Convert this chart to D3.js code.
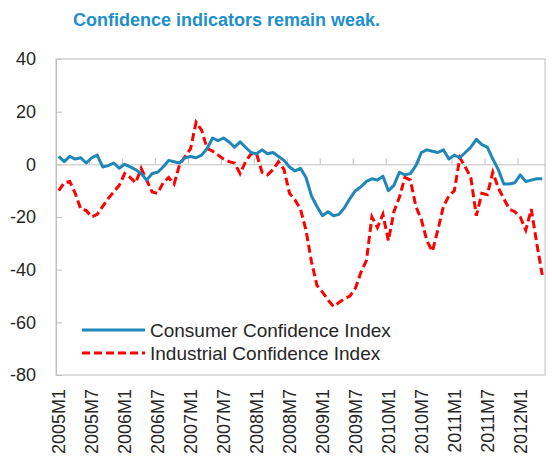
<!DOCTYPE html>
<html>
<head>
<meta charset="utf-8">
<script src="https://cdn.jsdelivr.net/npm/d3@7"></script>
<style>
  body { margin: 0; background: #fff; }
  text { font-family: "Liberation Sans", Arial, sans-serif; }
</style>
</head>
<body>
<main></main>
<script>
/*** Data ***/

// every 6th month gets a label
let tickLabels = ['2005M1', '2005M7', '2006M1', '2006M7', '2007M1', '2007M7', '2008M1', '2008M7',
    '2009M1', '2009M7', '2010M1', '2010M7', '2011M1', '2011M7', '2012M1']

let years = [2005, 2006, 2007, 2008, 2009, 2010, 2011, 2012]
let lastMonth = 5 // series end at 2012M5

let months = []
years.forEach(yr => {
    for (let m = 1; m <= 12; m++) {
        if (yr === 2012 && m > lastMonth) break
        months.push(yr + 'M' + m)
    }
})

let consumer = [
    3, 1, 3, 2, 2.5, 0.5, 2.5, 3.5, -1, -0.5, 0.5, -1.5,
    0, -1, -2, -3.5, -6, -3.5, -3, -1, 1.5, 1, 0.5, 2.5,
    3, 2.5, 3.5, 6, 10, 9, 10, 8.5, 6.5, 8.5, 6.5, 4.5,
    4, 5.5, 4, 4.5, 3, 1.5, -1, -2.5, -1.5, -5, -12, -16,
    -19.5, -18, -19.5, -19, -16.5, -13, -10, -8.5, -6.5, -5.5, -6, -4.5,
    -10, -8, -3, -4, -3.5, -0.5, 4.5, 5.5, 5, 4.5, 5.5, 2,
    3.5, 2.5, 4.5, 6.5, 9.5, 7.5, 6.5, 2, -2, -7.5, -7.5, -7,
    -4, -6.5, -6, -5.5, -5.5
]

let industrial = [
    -10, -7, -6.5, -11, -17, -17.5, -20, -19, -16, -13, -10.5, -8,
    -3.5, -5, -7, -1.5, -6, -10.5, -11, -7, -5, -7.5, 0, 3,
    6, 16, 13, 6, 5, 3.5, 2, 1, 0.5, -3.5, 1, 4,
    4, -3, -4, -2, 1, -2, -11, -13.5, -17, -25, -37, -46,
    -48.5, -51.5, -54, -52.5, -51, -50, -47, -41, -36.5, -20, -24, -19,
    -29, -18, -12.5, -5, -6, -16, -21, -29, -33, -25, -16, -12,
    -10, 2.5, -1, -5, -19.5, -11, -11.5, -3, -9, -13, -17, -18,
    -20, -25, -17, -30, -42
]

let yTicks = [40, 20, 0, -20, -40, -60, -80]

let seriesNames = ['Consumer Confidence Index', 'Industrial Confidence Index']

/*** Layout ***/

const svgWidth = 552
const svgHeight = 465

const plotLeft = 56
const plotRight = 545
const plotTop = 59
const plotBottom = 375

const blue = '#1f87b8'
const red = '#ff0000'
const gray = '#bfbfbf'
const textColor = '#262626'

let svg = d3.select('main')
    .append('svg')
    .attr('width', svgWidth)
    .attr('height', svgHeight)
    .style('display', 'block')

// title
svg.append('text')
    .attr('x', 73)
    .attr('y', 26)
    .attr('fill', '#2090cc')
    .style('font-size', '18px')
    .style('font-weight', 'bold')
    .text('Confidence indicators remain weak.')

/* Scales */

let x = d3.scaleBand()
    .domain(months)
    .range([plotLeft, plotRight])

let xIndex = d3.scaleLinear()
    .domain([0, months.length])
    .range([plotLeft, plotRight])

let y = d3.scaleLinear()
    .domain([-80, 40])
    .range([plotBottom, plotTop])

// plot frame
svg.append('rect')
    .attr('x', plotLeft)
    .attr('y', plotTop)
    .attr('width', plotRight - plotLeft)
    .attr('height', plotBottom - plotTop)
    .attr('fill', 'none')
    .attr('stroke', gray)
    .attr('stroke-width', 1)

/* Axes */

let leftAxis = d3.axisLeft(y)
    .tickValues(yTicks)
    .tickSizeInner(-6)
    .tickSizeOuter(0)
    .tickPadding(20)
    .tickFormat(d => String(d)) // plain hyphen, like the original

let yAxis = svg.append('g')
    .attr('transform', `translate(${plotLeft}, 0)`)
    .call(leftAxis)

yAxis.select('.domain').attr('stroke', gray)
yAxis.selectAll('line').attr('stroke', gray)
yAxis.selectAll('text')
    .attr('fill', textColor)
    .style('font-size', '18px')

// axis through zero with tick marks every 6 months
let zeroAxis = d3.axisTop(xIndex)
    .tickValues(d3.range(0, months.length, 6))
    .tickSizeInner(6)
    .tickSizeOuter(0)
    .tickFormat('')

let zAxis = svg.append('g')
    .attr('transform', `translate(0, ${y(0)})`)
    .call(zeroAxis)

zAxis.select('.domain').attr('stroke', gray)
zAxis.selectAll('line').attr('stroke', gray)

// category labels under the frame
let bottomAxis = d3.axisBottom(x)
    .tickValues(tickLabels)
    .tickSize(0)

let xAxis = svg.append('g')
    .attr('transform', `translate(0, ${plotBottom})`)
    .call(bottomAxis)

xAxis.select('.domain').remove()
xAxis.selectAll('text')
    .attr('transform', 'rotate(-90)')
    .attr('x', -14)
    .attr('y', 0)
    .attr('dy', '0.35em')
    .style('text-anchor', 'end')
    .style('font-size', '18px')
    .attr('fill', textColor)

/* Lines */

let line = d3.line()
    .x((d, i) => x(months[i]) + x.bandwidth() / 2)
    .y(d => y(d))

svg.append('path')
    .datum(industrial)
    .attr('d', line)
    .attr('fill', 'none')
    .attr('stroke', red)
    .attr('stroke-width', 3)
    .attr('stroke-dasharray', '8,4')

svg.append('path')
    .datum(consumer)
    .attr('d', line)
    .attr('fill', 'none')
    .attr('stroke', blue)
    .attr('stroke-width', 3)
    .attr('stroke-linejoin', 'round')

/* Legend */

let legend = svg.append('g')
    .attr('transform', 'translate(82, 330)')

let legendRows = legend.selectAll('g')
    .data(seriesNames)
    .enter()
    .append('g')
    .attr('transform', (d, i) => `translate(0, ${i * 23})`)

legendRows.append('line')
    .attr('x1', 0)
    .attr('x2', 63)
    .attr('stroke', (d, i) => i === 0 ? blue : red)
    .attr('stroke-width', 3)
    .attr('stroke-dasharray', (d, i) => i === 0 ? null : '8,4')

legendRows.append('text')
    .attr('x', 68)
    .attr('dy', '0.35em')
    .attr('fill', textColor)
    .style('font-size', '19px')
    .text(d => d)
</script>
</body>
</html>
